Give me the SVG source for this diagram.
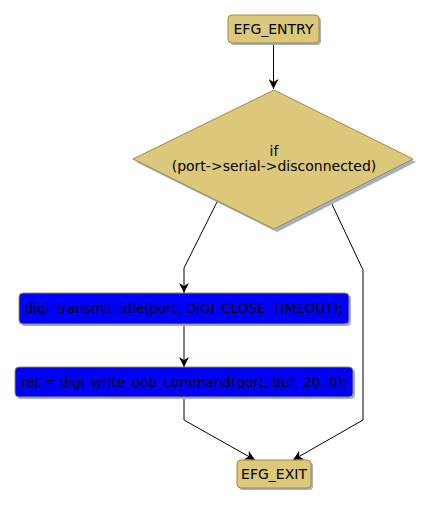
<svg xmlns="http://www.w3.org/2000/svg" width="432" height="510" viewBox="0 0 432 510">
<defs>
<style>
.t{font-family:"DejaVu Sans",sans-serif;font-size:14px;fill:#000;text-anchor:middle}
.s{font-size:13.5px}
.y{fill:#dcc87b;stroke:#9d8a45;stroke-width:1}
.b{fill:#0000ff;stroke:#9d8a45;stroke-width:1}
.sh{fill:#a3b0cb}
.e{fill:none;stroke:#000;stroke-width:1;marker-end:url(#ah)}
</style>
<marker id="ah" viewBox="0 0 10 10" refX="10" refY="5" markerWidth="10" markerHeight="10" markerUnits="userSpaceOnUse" orient="auto">
<path d="M0,0 L10,5 L0,10 L3,5 Z" fill="#000"/>
</marker>
</defs>
<rect width="432" height="510" fill="#fff"/>
<g id="edges">
<path class="e" d="M273.5,43 V89"/>
<path class="e" d="M217,202 L184,268 V293"/>
<path class="e" d="M330,200 L363,270 V420 L293,460"/>
<path class="e" d="M184,324 V367"/>
<path class="e" d="M184,397 V420 L255,460"/>
</g>
<g id="entry">
<rect class="sh" x="230" y="17" width="91" height="28" rx="4"/>
<rect class="y" x="228" y="15" width="91" height="28" rx="4"/>
<text class="t" x="273.5" y="34">EFG_ENTRY</text>
</g>
<g id="cond">
<polygon class="sh" points="277,93 416,162 277,232 136,162"/>
<polygon class="y" points="274,90 413,159 274,229 133,159"/>
<text class="t" x="274" y="156">if</text>
<text class="t" x="274" y="171">(port-&gt;serial-&gt;disconnected)</text>
</g>
<g id="idle">
<rect class="sh" x="21" y="295" width="330" height="31" rx="4"/>
<rect class="b" x="19" y="293" width="330" height="31" rx="4"/>
<text class="t s" x="184" y="313">digi_transmit_idle(port, DIGI_CLOSE_TIMEOUT);</text>
</g>
<g id="write">
<rect class="sh" x="17" y="369" width="338" height="30" rx="4"/>
<rect class="b" x="15" y="367" width="338" height="30" rx="4"/>
<text class="t s" x="184" y="387">ret = digi_write_oob_command(port, buf, 20, 0);</text>
</g>
<g id="exit">
<rect class="sh" x="239" y="462" width="74" height="28" rx="4"/>
<rect class="y" x="237" y="460" width="74" height="28" rx="4"/>
<text class="t" x="274" y="479">EFG_EXIT</text>
</g>
</svg>
